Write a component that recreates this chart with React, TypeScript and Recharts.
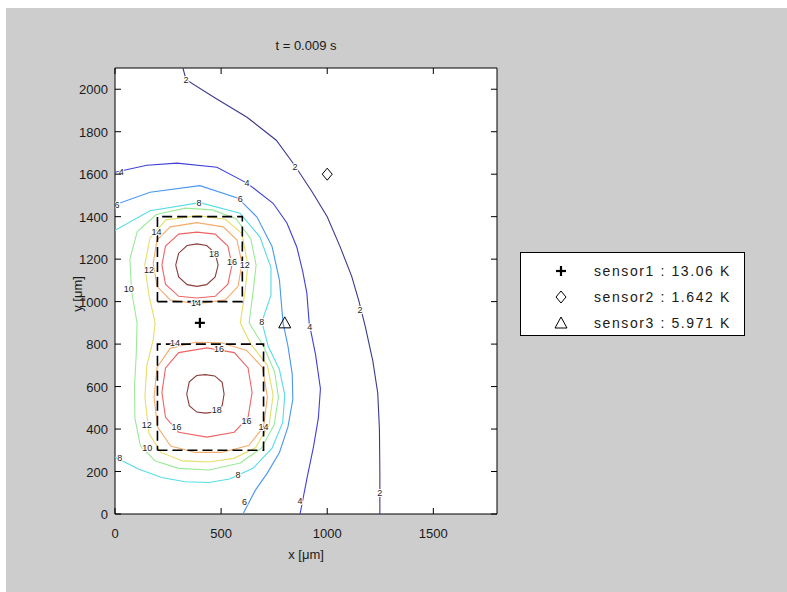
import React from "react";
import { ComposedChart, Line, Scatter, XAxis, YAxis, ReferenceArea } from "recharts";

// ---------- data ----------
const xTicks = [0, 500, 1000, 1500];
const yTicks = [0, 200, 400, 600, 800, 1000, 1200, 1400, 1600, 1800, 2000];

const contour2 = [
  { x: 320, y: 2100 }, { x: 335, y: 2045 }, { x: 470, y: 1960 }, { x: 622, y: 1868 }, { x: 760, y: 1760 },
  { x: 848, y: 1640 }, { x: 930, y: 1515 }, { x: 1000, y: 1400 }, { x: 1060, y: 1260 }, { x: 1115, y: 1120 },
  { x: 1150, y: 1000 }, { x: 1180, y: 880 }, { x: 1215, y: 720 }, { x: 1238, y: 570 }, { x: 1246, y: 400 },
  { x: 1248, y: 200 }, { x: 1248, y: 0 },
];
const contour4 = [
  { x: 0, y: 1609 }, { x: 150, y: 1642 }, { x: 292, y: 1652 }, { x: 480, y: 1633 }, { x: 622, y: 1558 },
  { x: 745, y: 1463 }, { x: 810, y: 1370 }, { x: 857, y: 1256 }, { x: 885, y: 1140 }, { x: 904, y: 1040 },
  { x: 915, y: 900 }, { x: 945, y: 750 }, { x: 968, y: 590 }, { x: 958, y: 450 }, { x: 935, y: 315 },
  { x: 905, y: 170 }, { x: 872, y: 0 },
];
const contour6 = [
  { x: 0, y: 1456 }, { x: 165, y: 1515 }, { x: 400, y: 1546 }, { x: 580, y: 1487 }, { x: 669, y: 1398 },
  { x: 740, y: 1260 }, { x: 775, y: 1100 }, { x: 785, y: 980 }, { x: 792, y: 900 }, { x: 815, y: 790 },
  { x: 835, y: 660 }, { x: 838, y: 540 }, { x: 815, y: 410 }, { x: 775, y: 290 }, { x: 716, y: 190 },
  { x: 660, y: 110 }, { x: 603, y: 0 },
];
const contour8 = [
  { x: 0, y: 1336 }, { x: 165, y: 1428 }, { x: 400, y: 1466 }, { x: 589, y: 1416 }, { x: 683, y: 1304 },
  { x: 735, y: 1160 }, { x: 735, y: 1030 }, { x: 692, y: 905 }, { x: 722, y: 790 }, { x: 775, y: 680 },
  { x: 800, y: 560 }, { x: 790, y: 430 }, { x: 740, y: 310 }, { x: 650, y: 215 }, { x: 540, y: 165 },
  { x: 443, y: 148 }, { x: 330, y: 152 }, { x: 220, y: 172 }, { x: 110, y: 212 }, { x: 0, y: 268 },
];
const contour10 = [
  { x: 70, y: 1200 }, { x: 105, y: 1330 }, { x: 195, y: 1410 }, { x: 330, y: 1440 }, { x: 460, y: 1432 },
  { x: 570, y: 1390 }, { x: 640, y: 1295 }, { x: 665, y: 1172 }, { x: 650, y: 1040 }, { x: 632, y: 900 },
  { x: 700, y: 790 }, { x: 752, y: 670 }, { x: 770, y: 550 }, { x: 750, y: 420 }, { x: 690, y: 310 },
  { x: 590, y: 240 }, { x: 443, y: 207 }, { x: 300, y: 215 }, { x: 190, y: 250 }, { x: 120, y: 320 },
  { x: 94, y: 450 }, { x: 92, y: 600 }, { x: 100, y: 750 }, { x: 104, y: 900 }, { x: 78, y: 1050 },
  { x: 70, y: 1200 },
];
const contour12 = [
  { x: 140, y: 1172 }, { x: 165, y: 1300 }, { x: 240, y: 1385 }, { x: 390, y: 1405 }, { x: 520, y: 1388 },
  { x: 598, y: 1320 }, { x: 626, y: 1172 }, { x: 612, y: 1040 }, { x: 590, y: 900 }, { x: 640, y: 800 },
  { x: 718, y: 700 }, { x: 745, y: 560 }, { x: 726, y: 420 }, { x: 662, y: 312 }, { x: 560, y: 262 },
  { x: 443, y: 245 }, { x: 320, y: 250 }, { x: 215, y: 290 }, { x: 160, y: 380 }, { x: 141, y: 550 },
  { x: 150, y: 700 }, { x: 180, y: 820 }, { x: 189, y: 900 }, { x: 160, y: 1030 }, { x: 140, y: 1172 },
];
const contour14Top = [
  { x: 180, y: 1180 }, { x: 198, y: 1290 }, { x: 260, y: 1352 }, { x: 386, y: 1372 }, { x: 510, y: 1352 },
  { x: 575, y: 1290 }, { x: 598, y: 1180 }, { x: 580, y: 1072 }, { x: 520, y: 1008 }, { x: 386, y: 990 },
  { x: 260, y: 1008 }, { x: 198, y: 1072 }, { x: 180, y: 1180 },
];
const contour14Bottom = [
  { x: 184, y: 550 }, { x: 198, y: 690 }, { x: 260, y: 780 }, { x: 380, y: 809 }, { x: 500, y: 806 },
  { x: 620, y: 770 }, { x: 695, y: 690 }, { x: 718, y: 550 }, { x: 700, y: 410 }, { x: 630, y: 322 },
  { x: 500, y: 290 }, { x: 380, y: 290 }, { x: 262, y: 320 }, { x: 200, y: 410 }, { x: 184, y: 550 },
];
const contour16Top = [
  { x: 221, y: 1172 }, { x: 238, y: 1262 }, { x: 300, y: 1318 }, { x: 386, y: 1327 }, { x: 472, y: 1318 },
  { x: 532, y: 1262 }, { x: 551, y: 1172 }, { x: 532, y: 1082 }, { x: 472, y: 1025 }, { x: 386, y: 1017 },
  { x: 300, y: 1025 }, { x: 238, y: 1082 }, { x: 221, y: 1172 },
];
const contour16Bottom = [
  { x: 221, y: 572 }, { x: 238, y: 688 }, { x: 300, y: 760 }, { x: 433, y: 782 }, { x: 562, y: 760 },
  { x: 627, y: 688 }, { x: 646, y: 572 }, { x: 627, y: 455 }, { x: 562, y: 385 }, { x: 433, y: 362 },
  { x: 300, y: 385 }, { x: 238, y: 455 }, { x: 221, y: 572 },
];
const contour18Top = [
  { x: 286, y: 1172 }, { x: 300, y: 1228 }, { x: 340, y: 1264 }, { x: 386, y: 1272 }, { x: 432, y: 1264 },
  { x: 472, y: 1228 }, { x: 486, y: 1172 }, { x: 472, y: 1116 }, { x: 432, y: 1080 }, { x: 386, y: 1072 },
  { x: 340, y: 1080 }, { x: 300, y: 1116 }, { x: 286, y: 1172 },
];
const contour18Bottom = [
  { x: 338, y: 565 }, { x: 350, y: 622 }, { x: 385, y: 652 }, { x: 426, y: 656 }, { x: 470, y: 650 },
  { x: 505, y: 620 }, { x: 514, y: 565 }, { x: 505, y: 510 }, { x: 470, y: 480 }, { x: 426, y: 475 },
  { x: 385, y: 480 }, { x: 350, y: 510 }, { x: 338, y: 565 },
];

const heaterTop = [
  { x: 200, y: 1000 }, { x: 600, y: 1000 }, { x: 600, y: 1400 }, { x: 200, y: 1400 }, { x: 200, y: 1000 },
];
const heaterBottom = [
  { x: 200, y: 300 }, { x: 700, y: 300 }, { x: 700, y: 800 }, { x: 200, y: 800 }, { x: 200, y: 300 },
];

const contourLabels = [
  { x: 335, y: 2045, t: "2" }, { x: 848, y: 1636, t: "2" }, { x: 1155, y: 960, t: "2" }, { x: 1248, y: 100, t: "2" },
  { x: 30, y: 1612, t: "4" }, { x: 622, y: 1558, t: "4" }, { x: 918, y: 880, t: "4" }, { x: 872, y: 60, t: "4" },
  { x: 10, y: 1456, t: "6" }, { x: 590, y: 1485, t: "6" }, { x: 610, y: 55, t: "6" },
  { x: 396, y: 1466, t: "8" }, { x: 692, y: 905, t: "8" }, { x: 22, y: 265, t: "8" }, { x: 580, y: 185, t: "8" },
  { x: 65, y: 1060, t: "10" }, { x: 152, y: 312, t: "10" },
  { x: 160, y: 1150, t: "12" }, { x: 612, y: 1172, t: "12" }, { x: 150, y: 420, t: "12" },
  { x: 382, y: 992, t: "14" }, { x: 283, y: 806, t: "14" }, { x: 700, y: 410, t: "14" }, { x: 195, y: 1330, t: "14" },
  { x: 551, y: 1186, t: "16" }, { x: 290, y: 410, t: "16" }, { x: 490, y: 775, t: "16" }, { x: 620, y: 440, t: "16" },
  { x: 466, y: 1225, t: "18" }, { x: 480, y: 490, t: "18" },
];

const sensorNames = ["sensor1", "sensor2", "sensor3"];
const sensorValues = ["13.06", "1.642", "5.971"];
const sensorX = [400, 1000, 800];
const sensorY = [900, 1600, 900];
const sensorMarkers = ["plus", "diamond", "triangle"];

const titleText = "t = 0.009 s";
const xLabelText = "x [\u03bcm]";
const yLabelText = "y [\u03bcm]";

// ---------- styling ----------
const levelColors: Record<string, string> = {
  "2": "#3a3a8c",
  "4": "#4040d8",
  "6": "#4a96f0",
  "8": "#55dce6",
  "10": "#9aea9a",
  "12": "#e6de6a",
  "14": "#f4ac6c",
  "16": "#ee6464",
  "18": "#8c3a3a",
};

const contourSeries = [
  { key: "c2", level: "2", data: contour2 },
  { key: "c4", level: "4", data: contour4 },
  { key: "c6", level: "6", data: contour6 },
  { key: "c8", level: "8", data: contour8 },
  { key: "c10", level: "10", data: contour10 },
  { key: "c12", level: "12", data: contour12 },
  { key: "c14a", level: "14", data: contour14Top },
  { key: "c14b", level: "14", data: contour14Bottom },
  { key: "c16a", level: "16", data: contour16Top },
  { key: "c16b", level: "16", data: contour16Bottom },
  { key: "c18a", level: "18", data: contour18Top },
  { key: "c18b", level: "18", data: contour18Bottom },
];

const FONT = "'Liberation Sans', Arial, Helvetica, sans-serif";
const W = 781;
const H = 584;
const PLOT = { left: 109, top: 60, right: 491, bottom: 506 };
const TICK = 6;

const XTick = (props: any) => {
  const { x, payload } = props;
  return (
    <g>
      <line x1={x} x2={x} y1={PLOT.bottom} y2={PLOT.bottom - TICK} stroke="#000" />
      <line x1={x} x2={x} y1={PLOT.top} y2={PLOT.top + TICK} stroke="#000" />
      <text x={x} y={PLOT.bottom + 24} textAnchor="middle" fontSize={13} fontFamily={FONT} fill="#1a1a1a">
        {payload.value}
      </text>
    </g>
  );
};

const YTick = (props: any) => {
  const { y, payload } = props;
  return (
    <g>
      <line x1={PLOT.left} x2={PLOT.left + TICK} y1={y} y2={y} stroke="#000" />
      <line x1={PLOT.right} x2={PLOT.right - TICK} y1={y} y2={y} stroke="#000" />
      <text x={PLOT.left - 7} y={y + 5} textAnchor="end" fontSize={13} fontFamily={FONT} fill="#1a1a1a">
        {payload.value}
      </text>
    </g>
  );
};

const Marker = ({ kind, cx, cy }: { kind: string; cx: number; cy: number }) => {
  if (kind === "plus") {
    return (
      <g stroke="#000" strokeWidth={2.2}>
        <line x1={cx - 5} x2={cx + 5} y1={cy} y2={cy} />
        <line x1={cx} x2={cx} y1={cy - 5} y2={cy + 5} />
      </g>
    );
  }
  if (kind === "diamond") {
    return (
      <polygon
        points={`${cx},${cy - 6} ${cx + 5},${cy} ${cx},${cy + 6} ${cx - 5},${cy}`}
        fill="none"
        stroke="#000"
        strokeWidth={1}
      />
    );
  }
  return (
    <polygon
      points={`${cx},${cy - 6} ${cx + 6},${cy + 5} ${cx - 6},${cy + 5}`}
      fill="none"
      stroke="#000"
      strokeWidth={1}
    />
  );
};

const LabelShape = (props: any) => {
  const { cx, cy, payload } = props;
  return (
    <text
      x={cx}
      y={cy + 3}
      textAnchor="middle"
      fontSize={9}
      fontFamily={FONT}
      fill="#222"
      stroke="#fff"
      strokeWidth={2}
      paintOrder="stroke"
    >
      {payload.t}
    </text>
  );
};

export default function App() {
  const sensors = sensorNames.map((name, i) => ({
    name,
    value: sensorValues[i],
    marker: sensorMarkers[i],
    data: [{ x: sensorX[i], y: sensorY[i] }],
  }));

  return (
    <div
      style={{
        position: "absolute",
        left: 6,
        top: 8,
        width: W,
        height: H,
        background: "#cdcdcd",
        fontFamily: FONT,
        color: "#1a1a1a",
      }}
    >
      <div
        style={{
          position: "absolute",
          left: PLOT.left,
          top: PLOT.top,
          width: PLOT.right - PLOT.left,
          height: PLOT.bottom - PLOT.top,
          background: "#fff",
        }}
      />
      <div style={{ position: "absolute", left: 0, top: 0 }}>
        <ComposedChart width={W} height={H} margin={{ top: 60, right: 290, bottom: 48, left: 69 }}>
          <XAxis
            dataKey="x"
            type="number"
            domain={[0, 1800]}
            ticks={xTicks}
            interval={0}
            allowDataOverflow
            tickLine={false}
            axisLine={false}
            height={30}
            tick={<XTick />}
          />
          <YAxis
            dataKey="y"
            type="number"
            domain={[0, 2100]}
            ticks={yTicks}
            interval={0}
            allowDataOverflow
            tickLine={false}
            axisLine={false}
            width={40}
            tick={<YTick />}
          />
          {contourSeries.map((s) => (
            <Line
              key={s.key}
              data={s.data}
              dataKey="y"
              type="linear"
              stroke={levelColors[s.level]}
              strokeWidth={1.1}
              dot={false}
              activeDot={false}
              isAnimationActive={false}
            />
          ))}
          <Line
            data={heaterTop}
            dataKey="y"
            type="linear"
            stroke="#000"
            strokeWidth={1.6}
            strokeDasharray="10 5"
            dot={false}
            activeDot={false}
            isAnimationActive={false}
          />
          <Line
            data={heaterBottom}
            dataKey="y"
            type="linear"
            stroke="#000"
            strokeWidth={1.6}
            strokeDasharray="10 5"
            dot={false}
            activeDot={false}
            isAnimationActive={false}
          />
          <Scatter data={contourLabels} shape={<LabelShape />} isAnimationActive={false} />
          {sensors.map((s) => (
            <Scatter
              key={s.name}
              data={s.data}
              isAnimationActive={false}
              shape={(p: any) => <Marker kind={s.marker} cx={p.cx} cy={p.cy} />}
            />
          ))}
          <ReferenceArea x1={0} x2={1800} y1={0} y2={2100} fill="none" stroke="#000" strokeWidth={1} />
        </ComposedChart>
      </div>
      <div
        style={{
          position: "absolute",
          left: (PLOT.left + PLOT.right) / 2,
          top: 30,
          transform: "translateX(-50%)",
          whiteSpace: "nowrap",
          fontSize: 13,
          lineHeight: "16px",
        }}
      >
        {titleText}
      </div>
      <div
        style={{
          position: "absolute",
          left: (PLOT.left + PLOT.right) / 2,
          top: 539,
          transform: "translateX(-50%)",
          whiteSpace: "nowrap",
          fontSize: 13,
          lineHeight: "16px",
        }}
      >
        {xLabelText}
      </div>
      <div
        style={{
          position: "absolute",
          left: 72,
          top: 286,
          transform: "translate(-50%, -50%) rotate(-90deg)",
          whiteSpace: "nowrap",
          fontSize: 13,
          lineHeight: "16px",
        }}
      >
        {yLabelText}
      </div>
      <div
        style={{
          position: "absolute",
          left: 514,
          top: 244,
          width: 223,
          height: 82,
          background: "#fff",
          border: "1px solid #000",
        }}
      >
        {sensors.map((s, i) => (
          <div
            key={s.name}
            style={{
              position: "absolute",
              left: 0,
              top: 18 + i * 26 - 9,
              height: 18,
              width: 223,
            }}
          >
            <svg width={20} height={18} style={{ position: "absolute", left: 30, top: 0 }}>
              <Marker kind={s.marker} cx={10} cy={9} />
            </svg>
            <span
              style={{
                position: "absolute",
                left: 73,
                top: 0,
                lineHeight: "18px",
                fontSize: 14,
                letterSpacing: "1.6px",
                whiteSpace: "nowrap",
              }}
            >
              {`${s.name} : ${s.value} K`}
            </span>
          </div>
        ))}
      </div>
    </div>
  );
}
